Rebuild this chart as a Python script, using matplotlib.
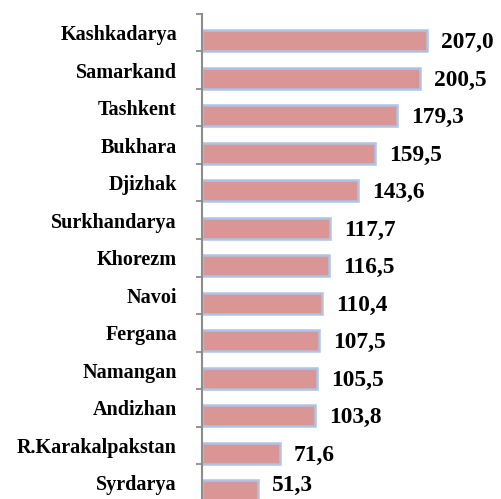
import matplotlib.pyplot as plt

# Data
regions = ['Kashkadarya', 'Samarkand', 'Tashkent', 'Bukhara', 'Djizhak', 'Surkhandarya',
           'Khorezm', 'Navoi', 'Fergana', 'Namangan', 'Andizhan', 'R.Karakalpakstan', 'Syrdarya']
values = [207.0, 200.5, 179.3, 159.5, 143.6, 117.7, 116.5, 110.4, 107.5, 105.5, 103.8, 71.6, 51.3]
value_labels = ['207,0', '200,5', '179,3', '159,5', '143,6', '117,7', '116,5',
                '110,4', '107,5', '105,5', '103,8', '71,6', '51,3']

plt.rcParams['font.family'] = ['Liberation Serif', 'DejaVu Serif']

fig = plt.figure(figsize=(5.02, 4.99), dpi=100)
ax = fig.add_axes([202 / 502, -2.5 / 499, 300 / 502, 487.5 / 499])

pos = list(range(len(regions)))
bar_pos = [p + 0.21 for p in pos]
ax.barh(bar_pos, values, height=0.56, color='#d99694', edgecolor='#adc4e6', linewidth=1.8)

for i, (y, v, lab) in enumerate(zip(bar_pos, values, value_labels)):
    dy = 0.06 if i < len(regions) - 1 else -0.15  # last label pushed up to stay inside
    ax.text(v + 13, y + dy, lab, ha='left', va='center', fontsize=16.8, fontweight='bold')

ax.set_xlim(0, 276)
ax.set_ylim(len(regions) - 0.5, -0.5)

ax.set_yticks(pos)
ax.set_yticklabels(regions, fontsize=14.5, fontweight='bold')
ax.set_yticks([p + 0.5 for p in range(-1, len(regions))], minor=True)
ax.tick_params(axis='y', which='major', length=0, pad=18)
ax.tick_params(axis='y', which='minor', length=4.3, color='#8c8c8c', width=1.3)
ax.set_xticks([])

for s in ['top', 'right', 'bottom']:
    ax.spines[s].set_visible(False)
ax.spines['left'].set_color('#8c8c8c')
ax.spines['left'].set_linewidth(1.5)

fig.savefig('out.png', dpi=100)
